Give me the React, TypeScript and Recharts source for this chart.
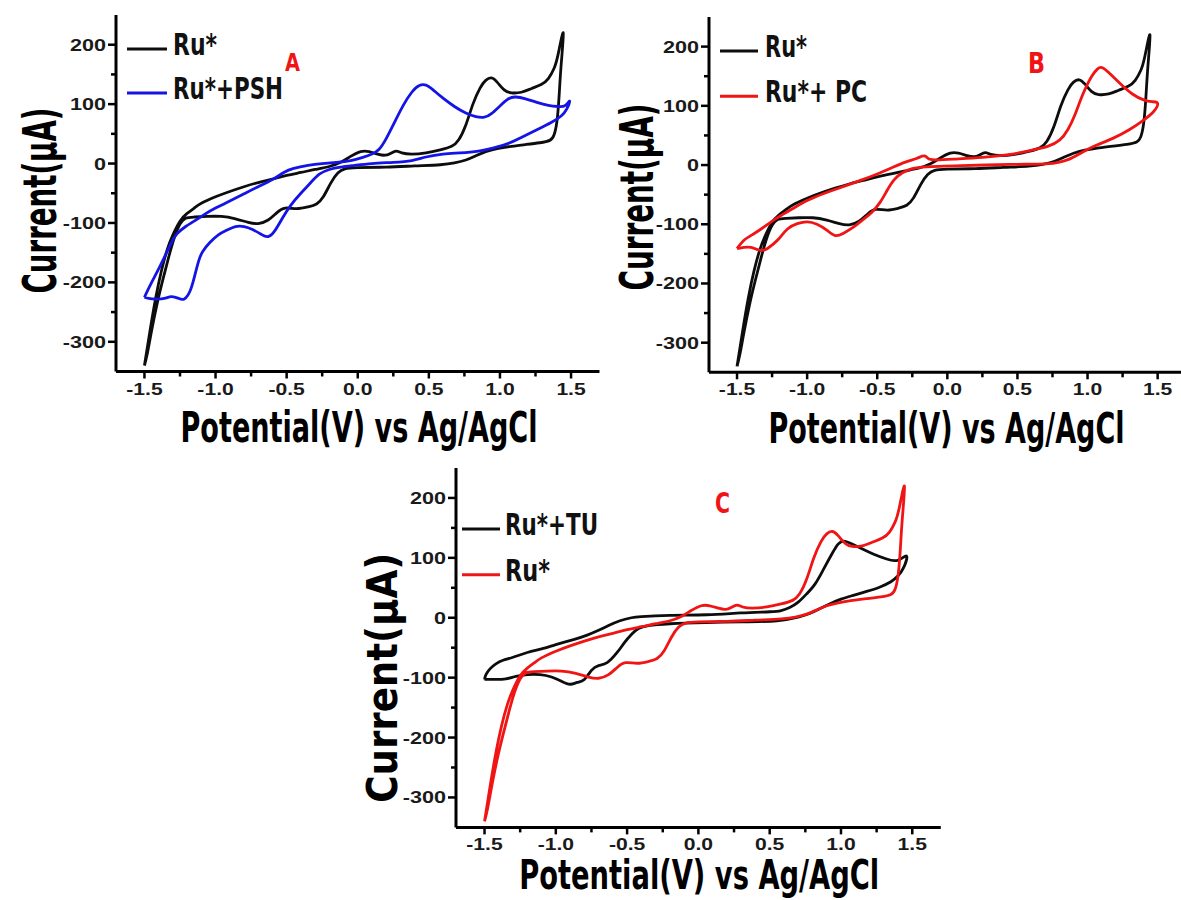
import React, { useLayoutEffect, useRef, useState } from 'react';
import { LineChart, Line, XAxis, YAxis, Legend } from 'recharts';

type Pt = [number, number];

// Ru* cyclic voltammogram (same trace in all three panels)
const ruStarCurve: Pt[] = [
  [-1.50, -340], [-1.46, -280], [-1.42, -225], [-1.38, -180], [-1.34, -145], [-1.30, -120], [-1.25, -97],
  [-1.20, -84], [-1.15, -75], [-1.10, -67], [-1.00, -56], [-0.90, -47], [-0.80, -39], [-0.70, -32],
  [-0.60, -26], [-0.50, -20], [-0.40, -15], [-0.30, -10], [-0.20, -5], [-0.12, 2], [-0.05, 12], [0.02, 20],
  [0.08, 20], [0.14, 16], [0.19, 14], [0.23, 17], [0.27, 21], [0.31, 18], [0.38, 16], [0.48, 18], [0.58, 23],
  [0.66, 29], [0.71, 40], [0.76, 65], [0.81, 100], [0.86, 127], [0.90, 140], [0.94, 144], [0.98, 137],
  [1.03, 124], [1.08, 119], [1.15, 120], [1.22, 126], [1.29, 133], [1.34, 143], [1.38, 160], [1.41, 185],
  [1.445, 220],
  [1.43, 165], [1.415, 110], [1.40, 70], [1.38, 48], [1.35, 39], [1.28, 35], [1.18, 32], [1.08, 29],
  [0.98, 25], [0.90, 20], [0.83, 13], [0.76, 6], [0.68, 1], [0.58, -2], [0.40, -4], [0.20, -6], [0.00, -7],
  [-0.09, -9], [-0.14, -16], [-0.19, -33], [-0.24, -55], [-0.29, -68], [-0.35, -73], [-0.43, -76],
  [-0.51, -75], [-0.57, -83], [-0.63, -95], [-0.70, -101], [-0.77, -99], [-0.86, -93], [-0.96, -89],
  [-1.06, -89], [-1.15, -90], [-1.21, -92], [-1.25, -102], [-1.29, -125], [-1.33, -158], [-1.37, -195],
  [-1.41, -235], [-1.45, -282], [-1.48, -320], [-1.50, -340],
];

// Ru* + PSH (panel A, blue)
const pshCurve: Pt[] = [
  [-1.50, -225], [-1.46, -205], [-1.41, -182], [-1.36, -158], [-1.31, -133], [-1.27, -118], [-1.21, -106],
  [-1.15, -97], [-1.08, -86], [-1.00, -75], [-0.90, -63], [-0.80, -51], [-0.70, -39], [-0.60, -27],
  [-0.52, -15], [-0.45, -8], [-0.35, -3], [-0.25, 0], [-0.15, 2], [-0.05, 5], [0.03, 10], [0.10, 16],
  [0.15, 24], [0.20, 42], [0.26, 70], [0.32, 98], [0.38, 120], [0.43, 131], [0.48, 132], [0.53, 124],
  [0.60, 110], [0.68, 96], [0.76, 85], [0.83, 79], [0.89, 78], [0.94, 84], [1.00, 97], [1.06, 109],
  [1.11, 112], [1.18, 109], [1.26, 103], [1.34, 98], [1.41, 96], [1.46, 98], [1.49, 105],
  [1.47, 92], [1.43, 80], [1.36, 69], [1.26, 57], [1.15, 44], [1.05, 33], [0.95, 26], [0.85, 21],
  [0.72, 18], [0.60, 16], [0.48, 11], [0.38, 5], [0.25, 2], [0.10, 0], [-0.02, -3], [-0.12, -6],
  [-0.20, -10], [-0.27, -18], [-0.33, -32], [-0.40, -50], [-0.47, -70], [-0.53, -92], [-0.58, -112],
  [-0.63, -123], [-0.68, -119], [-0.74, -111], [-0.80, -106], [-0.86, -106], [-0.92, -112], [-0.98, -120],
  [-1.04, -133], [-1.09, -148], [-1.12, -165], [-1.15, -192], [-1.18, -215], [-1.22, -228], [-1.26, -227],
  [-1.31, -224], [-1.36, -227], [-1.42, -228], [-1.47, -227], [-1.50, -225],
];

// Ru* + PC (panel B, red)
const pcCurve: Pt[] = [
  [-1.50, -141], [-1.45, -139], [-1.40, -139], [-1.35, -143], [-1.30, -143], [-1.25, -135], [-1.20, -124],
  [-1.14, -108], [-1.07, -99], [-1.00, -96], [-0.93, -100], [-0.86, -110], [-0.80, -119], [-0.74, -115],
  [-0.67, -105], [-0.60, -92], [-0.54, -80], [-0.48, -63], [-0.43, -43], [-0.38, -25], [-0.32, -13],
  [-0.25, -6], [-0.15, -3], [0.10, -1], [0.45, 1], [0.70, 2], [0.80, 5], [0.87, 10], [0.95, 20],
  [1.05, 32], [1.18, 45], [1.30, 60], [1.40, 76], [1.47, 90], [1.50, 104],
  [1.46, 107], [1.40, 110], [1.32, 120], [1.24, 136], [1.17, 152], [1.11, 164], [1.07, 162], [1.03, 150],
  [0.99, 132], [0.95, 110], [0.91, 85], [0.86, 60], [0.80, 42], [0.72, 32], [0.62, 26], [0.45, 18],
  [0.25, 13], [0.05, 10], [-0.11, 9], [-0.15, 14], [-0.18, 15], [-0.22, 11], [-0.30, 5], [-0.40, -5],
  [-0.50, -15], [-0.62, -26], [-0.75, -37], [-0.88, -48], [-1.00, -60], [-1.12, -76], [-1.22, -90],
  [-1.31, -105], [-1.38, -116], [-1.45, -127], [-1.50, -141],
];

// Ru* + TU (panel C, black)
const tuCurve: Pt[] = [
  [-1.50, -103], [-1.49, -95], [-1.46, -85], [-1.42, -77], [-1.37, -71], [-1.30, -66], [-1.20, -58],
  [-1.10, -52], [-1.00, -45], [-0.87, -36], [-0.78, -29], [-0.70, -21], [-0.63, -13], [-0.55, -5],
  [-0.47, 0], [-0.40, 2], [-0.20, 4], [0.06, 5], [0.30, 8], [0.50, 10], [0.58, 12], [0.64, 17],
  [0.70, 26], [0.76, 40], [0.82, 57], [0.88, 82], [0.94, 108], [0.98, 123], [1.02, 128], [1.07, 124],
  [1.14, 116], [1.23, 106], [1.32, 98], [1.40, 96], [1.46, 103],
  [1.44, 84], [1.40, 70], [1.35, 60], [1.27, 51], [1.18, 44], [1.08, 37], [1.00, 31], [0.92, 23],
  [0.85, 15], [0.78, 7], [0.70, 1], [0.55, -5], [0.30, -7], [0.05, -8], [-0.20, -10], [-0.35, -13],
  [-0.42, -18], [-0.47, -28], [-0.52, -42], [-0.57, -58], [-0.64, -75], [-0.70, -80], [-0.75, -88],
  [-0.80, -103], [-0.85, -108], [-0.90, -111], [-0.96, -106], [-1.03, -99], [-1.11, -95], [-1.20, -95],
  [-1.28, -98], [-1.35, -102], [-1.42, -103], [-1.50, -103],
];

const xMajorTicks = [-1.5, -1.0, -0.5, 0, 0.5, 1.0, 1.5];
const xMinorTicks = [-1.25, -0.75, -0.25, 0.25, 0.75, 1.25];
const xTickLabels = ['-1.5', '-1.0', '-0.5', '0.0', '0.5', '1.0', '1.5'];
const yMajorTicks = [-300, -200, -100, 0, 100, 200];
const yMinorTicks = [-250, -150, -50, 50, 150];
const yTickLabels = ['-300', '-200', '-100', '0', '100', '200'];
const xDomain: [number, number] = [-1.7, 1.7];
const yDomain: [number, number] = [-350, 250];

const xTitleText = 'Potential(V) vs Ag/AgCl';
const yTitleText = 'Current(\u03bcA)';

const BLACK = '#0d0d0d';
const BLUE = '#1414e6';
const RED = '#f01414';

const COND = "'DejaVu Sans Condensed', 'Liberation Sans Narrow', 'Roboto', 'DejaVu Sans', sans-serif";
const TICKF = "'Liberation Sans', Arial, sans-serif";

const toData = (c: Pt[]) => c.map(([x, y]) => ({ x, y }));

const panels = [
  {
    id: 'A',
    plot: { left: 115.5, top: 14.5, w: 483.5, h: 356.5 },
    series: [
      { name: 'Ru*', color: BLACK, curve: ruStarCurve },
      { name: 'Ru*+PSH', color: BLUE, curve: pshCurve },
    ],
    legend: { x: 127, y: 49, gap: 44, lineLen: 40, textDx: 46, widths: [44, 110] },
    xTitle: { cx: 358.5, base: 441.5, len: 357, size: 43 },
    yTitle: { base: 55, cy: 200, len: 186, size: 46 },
    letter: { x: 285, base: 71, w: 15, size: 24 },
  },
  {
    id: 'B',
    plot: { left: 708.5, top: 16.5, w: 476.7, h: 355.3 },
    series: [
      { name: 'Ru*', color: BLACK, curve: ruStarCurve },
      { name: 'Ru*+ PC', color: RED, curve: pcCurve },
    ],
    legend: { x: 720, y: 50.7, gap: 45.3, lineLen: 38, textDx: 45, widths: [42, 102] },
    xTitle: { cx: 946, base: 443, len: 356, size: 43 },
    yTitle: { base: 653, cy: 196.5, len: 187, size: 46 },
    letter: { x: 1028, base: 73, w: 17, size: 28 },
  },
  {
    id: 'C',
    plot: { left: 455.8, top: 468.2, w: 484.8, h: 359.4 },
    series: [
      { name: 'Ru*+TU', color: BLACK, curve: tuCurve },
      { name: 'Ru*', color: RED, curve: ruStarCurve },
    ],
    legend: { x: 461.7, y: 529.3, gap: 45.7, lineLen: 38, textDx: 43, widths: [93, 45] },
    xTitle: { cx: 699, base: 889, len: 360, size: 40 },
    yTitle: { base: 397, cy: 678, len: 250, size: 43 },
    letter: { x: 715, base: 513, w: 15, size: 28 },
  },
];

const YW = 120;
const MT = 12;
const MR = 12;
const XH = 95;

// Text that is squeezed horizontally (via a transform) to a target length
function FitText(props: {
  x: number;
  y: number;
  len: number;
  size: number;
  anchor?: 'start' | 'middle' | 'end';
  rotate?: boolean;
  fill?: string;
  children: string;
}) {
  const { x, y, len, size, anchor = 'start', rotate = false, fill = '#000', children } = props;
  const ref = useRef<SVGTextElement>(null);
  const [s, setS] = useState(0.6);
  useLayoutEffect(() => {
    const el = ref.current;
    if (el) {
      const w = el.getComputedTextLength();
      if (w > 0) {
        const ns = len / w;
        if (Math.abs(ns - s) > 0.001) setS(ns);
      }
    }
  });
  const tf = rotate
    ? `translate(${x} ${y}) rotate(-90) scale(${s} 1)`
    : `translate(${x} ${y}) scale(${s} 1)`;
  return (
    <text
      ref={ref}
      x={0}
      y={0}
      transform={tf}
      textAnchor={anchor}
      fontFamily={COND}
      fontWeight={700}
      fontSize={size}
      fill={fill}
    >
      {children}
    </text>
  );
}

const XTick = (props: any) => {
  const { x, y, payload } = props;
  const i = xMajorTicks.indexOf(payload.value);
  const major = i >= 0;
  return (
    <g>
      <line x1={x} x2={x} y1={y} y2={y + (major ? 7 : 5)} stroke="#000" strokeWidth={2.5} />
      {major && (
        <text
          transform={`translate(${x} ${y + 23}) scale(1.32 1)`}
          textAnchor="middle"
          fontFamily={TICKF}
          fontWeight={700}
          fontSize={16}
          fill="#1a1a1a"
        >
          {xTickLabels[i]}
        </text>
      )}
    </g>
  );
};

const YTick = (props: any) => {
  const { x, y, payload } = props;
  const i = yMajorTicks.indexOf(payload.value);
  const major = i >= 0;
  return (
    <g>
      <line x1={x - (major ? 8 : 5)} x2={x} y1={y} y2={y} stroke="#000" strokeWidth={2.5} />
      {major && (
        <text
          transform={`translate(${x - 10} ${y + 6}) scale(1.35 1)`}
          textAnchor="end"
          fontFamily={TICKF}
          fontWeight={700}
          fontSize={16}
          fill="#1a1a1a"
        >
          {yTickLabels[i]}
        </text>
      )}
    </g>
  );
};

function Panel({ p }: { p: (typeof panels)[number] }) {
  const { plot } = p;
  const ox = plot.left - YW;
  const oy = plot.top - MT;
  const W = YW + plot.w + MR;
  const H = MT + plot.h + XH;

  const xLabel = () => (
    <FitText
      x={p.xTitle.cx - ox}
      y={p.xTitle.base - oy}
      len={p.xTitle.len}
      size={p.xTitle.size}
      anchor="middle"
    >
      {xTitleText}
    </FitText>
  );

  const yLabel = () => (
    <FitText
      x={p.yTitle.base - ox}
      y={p.yTitle.cy - oy}
      len={p.yTitle.len}
      size={p.yTitle.size}
      anchor="middle"
      rotate
    >
      {yTitleText}
    </FitText>
  );

  const lg = p.legend;
  const order = p.series.map((s) => s.name);
  const renderLegend = (props: any) => {
    const payload = [...(props.payload || [])].sort(
      (a: any, b: any) => order.indexOf(a.value) - order.indexOf(b.value)
    );
    return (
      <svg width={200} height={100} style={{ display: 'block', overflow: 'visible' }}>
        {payload.map((e: any, i: number) => (
          <g key={i}>
            <line x1={0} x2={lg.lineLen} y1={16 + i * lg.gap} y2={16 + i * lg.gap} stroke={e.color} strokeWidth={3} />
            <FitText x={lg.textDx} y={16 + i * lg.gap + 6} len={lg.widths[i]} size={30} fill="#111">
              {e.value}
            </FitText>
          </g>
        ))}
      </svg>
    );
  };

  return (
    <div style={{ position: 'absolute', left: ox, top: oy }}>
      <LineChart width={W} height={H} margin={{ top: MT, right: MR, left: 0, bottom: 0 }}>
        <XAxis
          type="number"
          dataKey="x"
          domain={xDomain}
          allowDataOverflow
          ticks={[...xMajorTicks, ...xMinorTicks]}
          interval={0}
          tick={XTick}
          tickLine={false}
          tickSize={0}
          tickMargin={0}
          axisLine={{ stroke: '#000', strokeWidth: 3 }}
          height={XH}
          label={xLabel}
        />
        <YAxis
          type="number"
          domain={yDomain}
          allowDataOverflow
          ticks={[...yMajorTicks, ...yMinorTicks]}
          interval={0}
          tick={YTick}
          tickLine={false}
          tickSize={0}
          tickMargin={0}
          axisLine={{ stroke: '#000', strokeWidth: 3 }}
          width={YW}
          label={yLabel}
        />
        <Legend
          layout="vertical"
          align="center"
          verticalAlign="middle"
          itemSorter={(item: any) => order.indexOf(item.value)}
          content={renderLegend}
          wrapperStyle={{ left: lg.x - ox, top: lg.y - 16 - oy, width: 200, height: 100 }}
        />
        {p.series.map((s) => (
          <Line
            key={s.name}
            name={s.name}
            data={toData(s.curve)}
            dataKey="y"
            type="natural"
            stroke={s.color}
            strokeWidth={2.8}
            dot={false}
            activeDot={false}
            isAnimationActive={false}
            legendType="line"
          />
        ))}
      </LineChart>
    </div>
  );
}

export default function App() {
  return (
    <div
      style={{
        position: 'fixed',
        left: 0,
        top: 0,
        width: 1181,
        height: 900,
        overflow: 'hidden',
        background: '#fff',
      }}
    >
      {panels.map((p) => (
        <Panel key={p.id} p={p} />
      ))}
      <svg width={1181} height={900} style={{ position: 'absolute', left: 0, top: 0, pointerEvents: 'none' }}>
        {panels.map((p) => (
          <FitText key={p.id} x={p.letter.x} y={p.letter.base} len={p.letter.w} size={p.letter.size} fill={RED}>
            {p.id}
          </FitText>
        ))}
      </svg>
    </div>
  );
}
